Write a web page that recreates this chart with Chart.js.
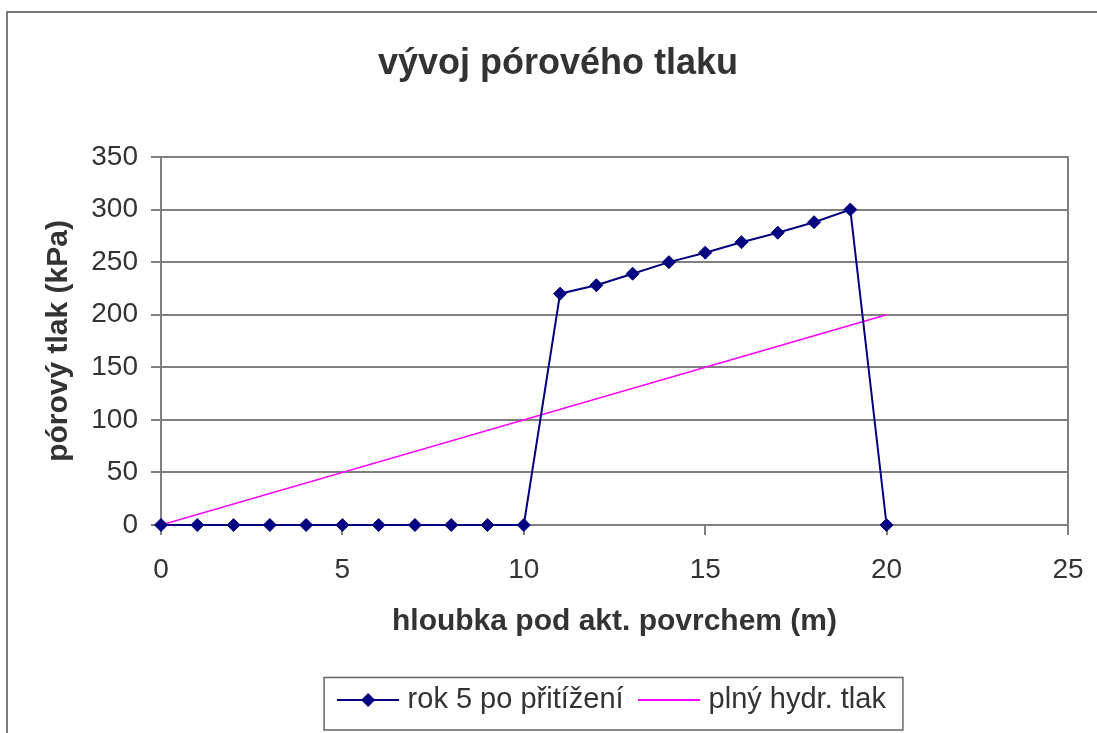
<!DOCTYPE html>
<html>
<head>
<meta charset="utf-8">
<script src="https://cdn.jsdelivr.net/npm/chart.js@4.4.0/dist/chart.umd.min.js"></script>
<style>
  body { margin: 0; background: #fff; }
  canvas { display: block; }
</style>
</head>
<body>
<canvas id="chart" width="1097" height="733"></canvas>
<script>
// hloubka (m) and porovy tlak (kPa)
const depthRok5 = [0, 1, 2, 3, 4, 5, 6, 7, 8, 9, 10, 11, 12, 13, 14, 15, 16, 17, 18, 19, 20];
const pressureRok5 = [0, 0, 0, 0, 0, 0, 0, 0, 0, 0, 0, 220, 228, 239, 250, 259, 269, 278, 288, 300, 0];
const depthHydr = [0, 20];
const pressureHydr = [0, 200];
const xTicks = [0, 5, 10, 15, 20, 25];
const yTicks = [0, 50, 100, 150, 200, 250, 300, 350];

const FONT = '"Liberation Sans", Arial, sans-serif';
const TEXT = '#333';
const NAVY = '#000080';
const PINK = '#ff00ff';
const GRID = '#808080';

function toPoints(xs, ys) {
    return xs.map((x, i) => ({ x: x, y: ys[i] }));
}

// little legend samples: line with a diamond, plain line
function legendSample(color, diamond) {
    const c = document.createElement('canvas');
    c.width = 62;
    c.height = 20;
    const g = c.getContext('2d');
    g.strokeStyle = color;
    g.lineWidth = 2;
    g.beginPath();
    g.moveTo(0, 10);
    g.lineTo(62, 10);
    g.stroke();
    if (diamond) {
        g.fillStyle = color;
        g.beginPath();
        g.moveTo(31, 3);
        g.lineTo(38, 10);
        g.lineTo(31, 17);
        g.lineTo(24, 10);
        g.closePath();
        g.fill();
    }
    return c;
}
const samples = [legendSample(NAVY, true), legendSample(PINK, false)];

const framePlugin = {
    id: 'frame',
    beforeDraw(chart) {
        const ctx = chart.ctx;
        ctx.save();
        ctx.fillStyle = '#fff';
        ctx.fillRect(0, 0, chart.width, chart.height);
        ctx.strokeStyle = '#7a7a7a';
        ctx.lineWidth = 2;
        ctx.strokeRect(7, 12, chart.width + 20, chart.height + 20);
        ctx.restore();
    },
    afterDraw(chart) {
        const ctx = chart.ctx;
        const a = chart.chartArea;
        ctx.save();
        // top and right edge of the plot area
        ctx.strokeStyle = GRID;
        ctx.lineWidth = 2;
        ctx.beginPath();
        ctx.moveTo(a.left, a.top);
        ctx.lineTo(a.right, a.top);
        ctx.lineTo(a.right, a.bottom + 10);
        ctx.stroke();
        // box round the legend
        const hb = chart.legend.legendHitBoxes;
        if (hb && hb.length) {
            const last = hb[hb.length - 1];
            const l = hb[0].left - 19;
            const r = last.left + last.width + 17;
            const t = hb[0].top - 8;
            const b = chart.height - 3;
            ctx.strokeStyle = '#666';
            ctx.lineWidth = 1.5;
            ctx.strokeRect(l, t, r - l, b - t);
        }
        ctx.restore();
    }
};

new Chart(document.getElementById('chart'), {
    type: 'line',
    data: {
        datasets: [{
            label: 'rok 5 po přitížení',
            data: toPoints(depthRok5, pressureRok5),
            borderColor: NAVY,
            backgroundColor: NAVY,
            borderWidth: 2,
            pointStyle: 'rectRot',
            pointRadius: 6.5,
            pointBorderWidth: 1,
            tension: 0,
            clip: false
        }, {
            label: 'plný hydr. tlak',
            data: toPoints(depthHydr, pressureHydr),
            borderColor: PINK,
            backgroundColor: PINK,
            borderWidth: 1.5,
            pointRadius: 0,
            tension: 0
        }]
    },
    options: {
        responsive: false,
        animation: false,
        layout: { padding: { left: 19, top: 12, right: 0, bottom: 8.5 } },
        plugins: {
            title: {
                display: true,
                text: 'vývoj pórového tlaku',
                color: TEXT,
                font: { family: FONT, size: 36, weight: 'bold' },
                padding: { top: 30, bottom: 71.8 }
            },
            legend: {
                position: 'bottom',
                fullSize: false,
                labels: {
                    color: TEXT,
                    font: { family: FONT, size: 29 },
                    usePointStyle: true,
                    pointStyleWidth: 50,
                    padding: 20.5,
                    generateLabels(chart) {
                        const items = Chart.defaults.plugins.legend.labels.generateLabels(chart);
                        items.forEach((it, i) => { it.pointStyle = samples[i]; });
                        return items;
                    }
                }
            },
            tooltip: { enabled: false }
        },
        scales: {
            x: {
                type: 'linear',
                min: 0,
                max: 25,
                afterBuildTicks(scale) { scale.ticks = xTicks.map(v => ({ value: v })); },
                afterFit(scale) { scale.height = 140; },
                ticks: { color: TEXT, font: { family: FONT, size: 28, lineHeight: 1.7 }, padding: 11 },
                grid: { drawOnChartArea: false, drawTicks: true, tickLength: 10, color: GRID, lineWidth: 2 },
                border: { color: GRID, width: 2 },
                title: {
                    display: true,
                    text: 'hloubka pod akt. povrchem (m)',
                    color: TEXT,
                    font: { family: FONT, size: 30, weight: 'bold' },
                    padding: { top: 0, bottom: 25 }
                }
            },
            y: {
                min: 0,
                max: 350,
                afterBuildTicks(scale) { scale.ticks = yTicks.map(v => ({ value: v })); },
                afterFit(scale) { scale.width = 142; },
                ticks: { color: TEXT, font: { family: FONT, size: 28 }, padding: 13 },
                grid: { color: GRID, lineWidth: 2, tickLength: 10 },
                border: { color: GRID, width: 2 },
                title: {
                    display: true,
                    text: 'pórový tlak (kPa)',
                    color: TEXT,
                    font: { family: FONT, size: 30, weight: 'bold' },
                    padding: { top: 22, bottom: 0 }
                }
            },
            // empty strip on the right so the plot ends where the original does
            yRight: {
                position: 'right',
                afterFit(scale) { scale.width = 29; },
                ticks: { display: false },
                grid: { display: false },
                border: { display: false }
            }
        }
    },
    plugins: [framePlugin]
});
</script>
</body>
</html>
